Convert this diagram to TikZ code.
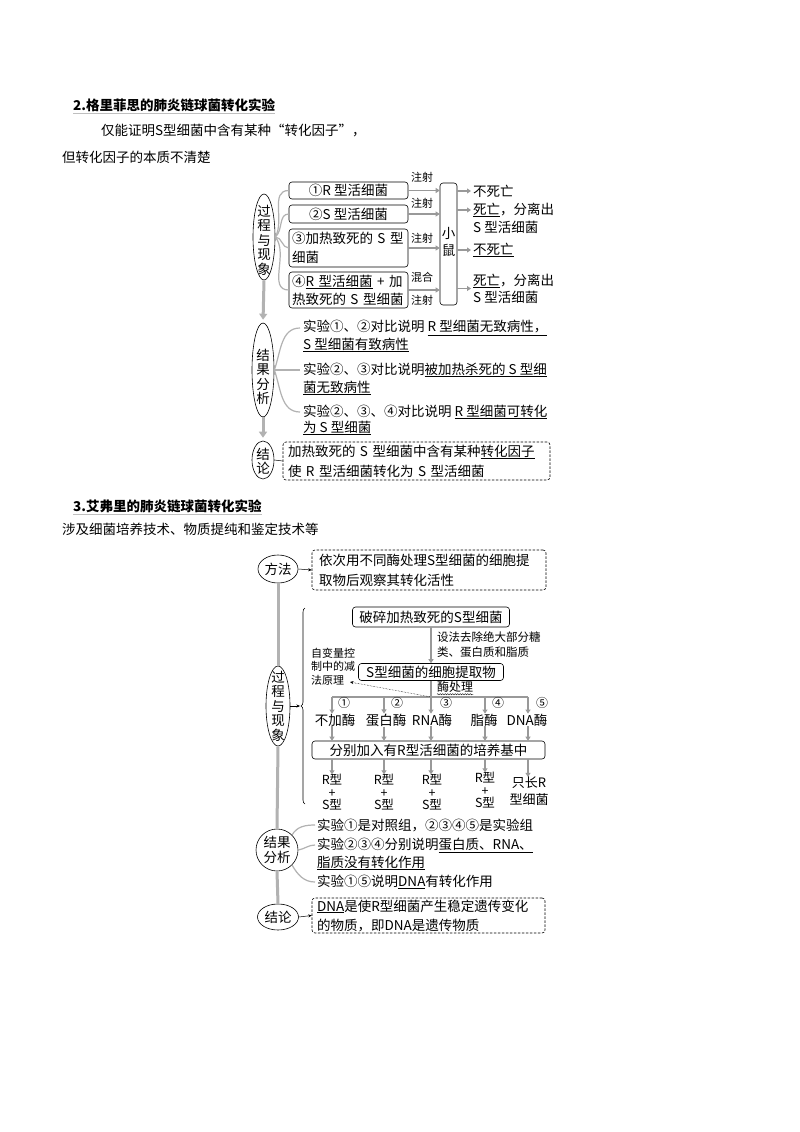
\documentclass[tikz,border=0pt]{standalone}
\usepackage{fontspec}
\setmainfont{Noto Sans CJK SC}
\usetikzlibrary{shapes.geometric,arrows.meta,decorations.pathreplacing,decorations.pathmorphing}
\newcommand\fz[2]{\fontsize{#1}{#2}\selectfont}
\begin{document}
\begin{tikzpicture}[x=1pt,y=-1pt,
  tx/.style={font=\fz{13.5}{16}, inner sep=0pt, anchor=west},
  hd/.style={font=\fz{13.5}{16}\bfseries, inner sep=0pt, anchor=west},
  sm/.style={font=\fz{11}{12}, inner sep=0pt},
  box/.style={draw, rounded corners=3pt, line width=0.6pt, inner sep=0pt, font=\fz{13.5}{16}},
  dbox/.style={draw, dash pattern=on 2.5pt off 1.5pt, rounded corners=3pt, line width=0.6pt, inner sep=0pt},
  oval/.style={draw, ellipse, inner sep=0pt, line width=0.6pt},
  vt/.style={font=\fz{13.5}{14.5}, align=center, inner sep=0pt},
  trunk/.style={draw=black!30, line width=3pt},
  trunkarr/.style={trunk, shorten >=3pt, -{Triangle[length=6pt,width=8pt]}},
  garr/.style={draw=black!40, line width=1.6pt, -{Triangle[length=4pt,width=5pt]}},
  branch/.style={draw=black!30, line width=1.2pt},
  karr/.style={draw, line width=0.5pt, -{Stealth[length=3.5pt,width=3pt]}}]
\useasboundingbox (0,0) rectangle (800,1132);
\fill[white] (0,0) rectangle (800,1132);

% ---------- section 2 header ----------
\node[hd] (h2) at (73,105) {2.格里菲思的肺炎链球菌转化实验};
\draw[black!25, line width=0.6pt] ([yshift=-2pt]h2.south west) -- ([yshift=-2pt]h2.south east);
\node[tx] (t21) at (101,131) {仅能证明S型细菌中含有某种“转化因子”，};
\node[tx] (t22) at (62,157) {但转化因子的本质不清楚};

% ---------- diagram 1 ----------
\node[oval, minimum width=22pt, minimum height=86pt] (e1) at (264,237) {};
\node[vt] at (264,240) {过\\程\\与\\现\\象};
\node[oval, minimum width=22pt, minimum height=94pt] (e2) at (263,370) {};
\node[vt] at (263,377) {结\\果\\分\\析};
\node[oval, minimum width=22pt, minimum height=38pt] (e3) at (263,460) {};
\node[vt] at (263,461) {结\\论};
\draw[trunkarr] (e1.south) -- (e2.north);
\draw[trunkarr] (e2.south) -- (e3.north);

\node[box, minimum width=119pt, minimum height=17pt] (b1) at (348.5,190.5) {①R 型活细菌};
\node[box, minimum width=119pt, minimum height=18pt] (b2) at (348.5,214) {②S 型活细菌};
\node[box, minimum width=119pt, minimum height=38pt, text width=113pt, align=left, font=\fz{13.5}{19}] (b3) at (348.5,248) {③加热致死的 S 型\\细菌};
\node[box, minimum width=119pt, minimum height=36pt, text width=113pt, align=left, font=\fz{13.5}{18}] (b4) at (348.5,290) {④\underline{R 型活细菌} + 加\\热致死的 S 型细菌};

\draw[branch] (e1.east) to[out=60,in=180] (b1.west);
\draw[branch] (e1.east) to[out=40,in=180] (b2.west);
\draw[branch] (e1.east) to[out=0,in=180] (b3.west);
\draw[branch] (e1.east) to[out=-50,in=180] (b4.west);

\node[box, minimum width=17pt, minimum height=122pt] (m) at (448.5,244) {};
\node[vt, font=\fz{13.5}{17}] at (448.5,242) {小\\鼠};

\node[sm] (l1) at (422,177) {注射};
\node[sm] (l2) at (422,203) {注射};
\node[sm] (l3) at (422,238) {注射};
\node[sm] (l4) at (422,277) {混合};
\node[sm] (l5) at (422,300) {注射};
\draw[garr] (b1.east) -- (b1.east -| m.west);
\draw[garr] (b2.east) -- (b2.east -| m.west);
\draw[garr] (b3.east) -- (b3.east -| m.west);
\draw[garr] (b4.east) -- (b4.east -| m.west);

\node[tx] (r1) at (473,191) {不死亡};
\node[tx] (r2a) at (473,210) {\underline{死亡}，分离出};
\node[tx] (r2b) at (473,227) {S 型活细菌};
\node[tx] (r3) at (473,250) {\underline{不死亡}};
\node[tx, align=left, font=\fz{13.5}{17}] (r4) at (473,288.5) {\underline{死亡}，分离出\\S 型活细菌};
\draw[garr] (m.east |- r1.west) -- ([xshift=-2pt]r1.west);
\draw[garr] (m.east |- r2a.west) -- ([xshift=-2pt]r2a.west);
\draw[garr] (m.east |- r3.west) -- ([xshift=-2pt]r3.west);
\draw[garr] (m.east |- r4.west) -- ([xshift=-2pt]r4.west);

\node[tx] (a1) at (303,328) {实验①、②对比说明 \underline{R 型细菌无致病性，}};
\node[tx] (a2) at (303,345) {\underline{S 型细菌有致病性}};
\node[tx] (a3) at (303,370) {实验②、③对比说明\underline{被加热杀死的 S 型细}};
\node[tx] (a4) at (303,388) {\underline{菌无致病性}};
\node[tx] (a5) at (303,412) {实验②、③、④对比说明 \underline{R 型细菌可转化}};
\node[tx] (a6) at (303,428) {\underline{为 S 型细菌}};
\draw[branch] (e2.east) to[out=70,in=180] ([xshift=-3pt]a1.west);
\draw[branch] (e2.east) to[out=0,in=180] ([xshift=-3pt]a3.west);
\draw[branch] (e2.east) to[out=-70,in=180] ([xshift=-3pt]a5.west);

\node[dbox, minimum width=267pt, minimum height=38pt, text width=257pt, align=left, font=\fz{13.5}{20}] (c1) at (416.5,461) {加热致死的 S 型细菌中含有某种\underline{转化因子}\\使 R 型活细菌转化为 S 型活细菌};
\draw[line width=0.5pt] (e3.east) -- (c1.west);

% ---------- section 3 header ----------
\node[hd] (h3) at (73,506) {3.艾弗里的肺炎链球菌转化实验};
\draw[black!25, line width=0.6pt] ([yshift=-2pt]h3.south west) -- ([yshift=-2pt]h3.south east);
\node[tx] (t31) at (62,529) {涉及细菌培养技术、物质提纯和鉴定技术等};

% ---------- diagram 2 ----------
\node[oval, minimum width=40pt, minimum height=28pt] (f1) at (278,569) {};
\node[font=\fz{13.5}{16}, inner sep=0pt] at (f1) {方法};
\node[dbox, minimum width=234pt, minimum height=40pt, text width=220pt, align=left, font=\fz{13.5}{20}] (fb) at (429,570) {依次用不同酶处理S型细菌的细胞提\\取物后观察其转化活性};
\draw[karr] (f1.east) -- (fb.west);

\node[oval, minimum width=24pt, minimum height=80pt] (e4) at (278,706) {};
\node[vt] at (278,706) {过\\程\\与\\现\\象};
\draw[trunk] (f1.south) -- (e4.north);

\draw[decorate, decoration={brace, amplitude=4pt}, line width=0.6pt] (305,804) -- (305,608);
\coordinate (bt) at (300,706);
\draw[karr] (e4.east) -- (bt);

\node[box, minimum width=157pt, minimum height=20pt] (p1) at (431,617) {破碎加热致死的S型细菌};
\node[box, minimum width=145pt, minimum height=17pt] (p2) at (431,672) {S型细菌的细胞提取物};
\draw[garr] (p1.south) -- (p2.north);
\node[anchor=west, align=left, inner sep=0pt, font=\fz{11.5}{15}] (lab) at (437,644.5) {设法去除绝大部分糖\\类、蛋白质和脂质};
\node[anchor=west, align=left, inner sep=0pt, font=\fz{11}{13.5}] (note) at (311,666.5) {自变量控\\制中的减\\法原理};
\node[anchor=west, inner sep=0pt, font=\fz{12}{13}] (w) at (437,687) {酶处理};
\draw[decorate, decoration={snake, amplitude=0.6pt, segment length=2.5pt}, line width=0.4pt] ([yshift=-1.5pt]w.south west) -- ([yshift=-1.5pt]w.south east);

\coordinate (k1) at (332,697);
\coordinate (k2) at (384,697);
\coordinate (k3) at (431,697);
\coordinate (k4) at (485,697);
\coordinate (k5) at (528,697);
\draw[draw=black!40, line width=1.6pt] (k1) -- (k5);
\coordinate (na) at (350,682);
\draw[densely dotted, line width=0.5pt, -{Stealth[length=3.5pt,width=3pt]}] (k3) -- (na);

\node[tx, anchor=center] (n1) at (335,720) {不加酶};
\node[tx, anchor=center] (n2) at (386,720) {蛋白酶};
\node[tx, anchor=center] (n3) at (432,720) {RNA酶};
\node[tx, anchor=center] (n4) at (484,720) {脂酶};
\node[tx, anchor=center] (n5) at (527,720) {DNA酶};
\draw[garr] (k1) -- (k1 |- n1.north);
\draw[garr] (k2) -- (k2 |- n2.north);
\draw[garr] (p2.south) -- (p2.south |- n3.north);
\draw[garr] (k4) -- (k4 |- n4.north);
\draw[garr] (k5) -- (k5 |- n5.north);
\node[sm, font=\fz{12}{12}] (u1) at (344,703) {①};
\node[sm, font=\fz{12}{12}] (u2) at (397,703) {②};
\node[sm, font=\fz{12}{12}] (u3) at (446,703) {③};
\node[sm, font=\fz{12}{12}] (u4) at (498,703) {④};
\node[sm, font=\fz{12}{12}] (u5) at (542,703) {⑤};

\node[box, minimum width=233pt, minimum height=18pt] (q) at (428.5,750) {分别加入有R型活细菌的培养基中};
\draw[garr] (n1.south -| k1) -- (q.north -| k1);
\draw[garr] (n2.south -| k2) -- (q.north -| k2);
\draw[garr] (n3.south -| k3) -- (q.north -| k3);
\draw[garr] (n4.south -| k4) -- (q.north -| k4);
\draw[garr] (n5.south -| k5) -- (q.north -| k5);

\node[align=center, inner sep=0pt, font=\fz{12.5}{12.5}] (o1) at (332,792.5) {R型\\+\\S型};
\node[align=center, inner sep=0pt, font=\fz{12.5}{12.5}] (o2) at (384,792.5) {R型\\+\\S型};
\node[align=center, inner sep=0pt, font=\fz{12.5}{12.5}] (o3) at (432,792.5) {R型\\+\\S型};
\node[align=center, inner sep=0pt, font=\fz{12.5}{12.5}] (o4) at (485,790.5) {R型\\+\\S型};
\node[align=center, inner sep=0pt, font=\fz{13}{17}] (o5) at (529,791.5) {只长R\\型细菌};
\draw[garr] (q.south -| k1) -- (o1.north -| k1);
\draw[garr] (q.south -| k2) -- (o2.north -| k2);
\draw[garr] (q.south -| k3) -- (o3.north -| k3);
\draw[garr] (q.south -| k4) -- (o4.north -| k4);
\draw[garr] (q.south -| k5) -- (o5.north -| k5);

\node[oval, minimum width=42pt, minimum height=42pt] (e5) at (277,850) {};
\node[font=\fz{13.5}{15}, align=center, inner sep=0pt] at (e5) {结果\\分析};
\draw[trunk] (e4.south) -- (e5.north);
\node[tx] (s1) at (317,825) {实验①是对照组，②③④⑤是实验组};
\node[tx] (s2) at (317,845) {实验②③④分别说明\underline{蛋白质、RNA、}};
\node[tx] (s3) at (317,863) {\underline{脂质没有转化作用}};
\node[tx] (s4) at (317,882) {实验①⑤说明\underline{DNA}有转化作用};
\draw[branch] (e5.north east) to[out=60,in=180] ([xshift=-2pt]s1.west);
\draw[branch] (e5.east) to[out=10,in=180] ([xshift=-2pt]s2.west);
\draw[branch] (e5.south east) to[out=-60,in=180] ([xshift=-2pt]s4.west);

\node[oval, minimum width=41pt, minimum height=26pt] (e6) at (278,917) {};
\node[font=\fz{13.5}{16}, inner sep=0pt] at (e6) {结论};
\draw[trunk] (e5.south) -- (e6.north);
\node[dbox, minimum width=233pt, minimum height=35pt, text width=223pt, align=left, font=\fz{13.5}{19}] (d) at (428.5,915.5) {\underline{DNA}是使R型细菌产生稳定遗传变化\\的物质，即DNA是遗传物质};
\draw[karr] (e6.east) -- (d.west);
\end{tikzpicture}
\end{document}
